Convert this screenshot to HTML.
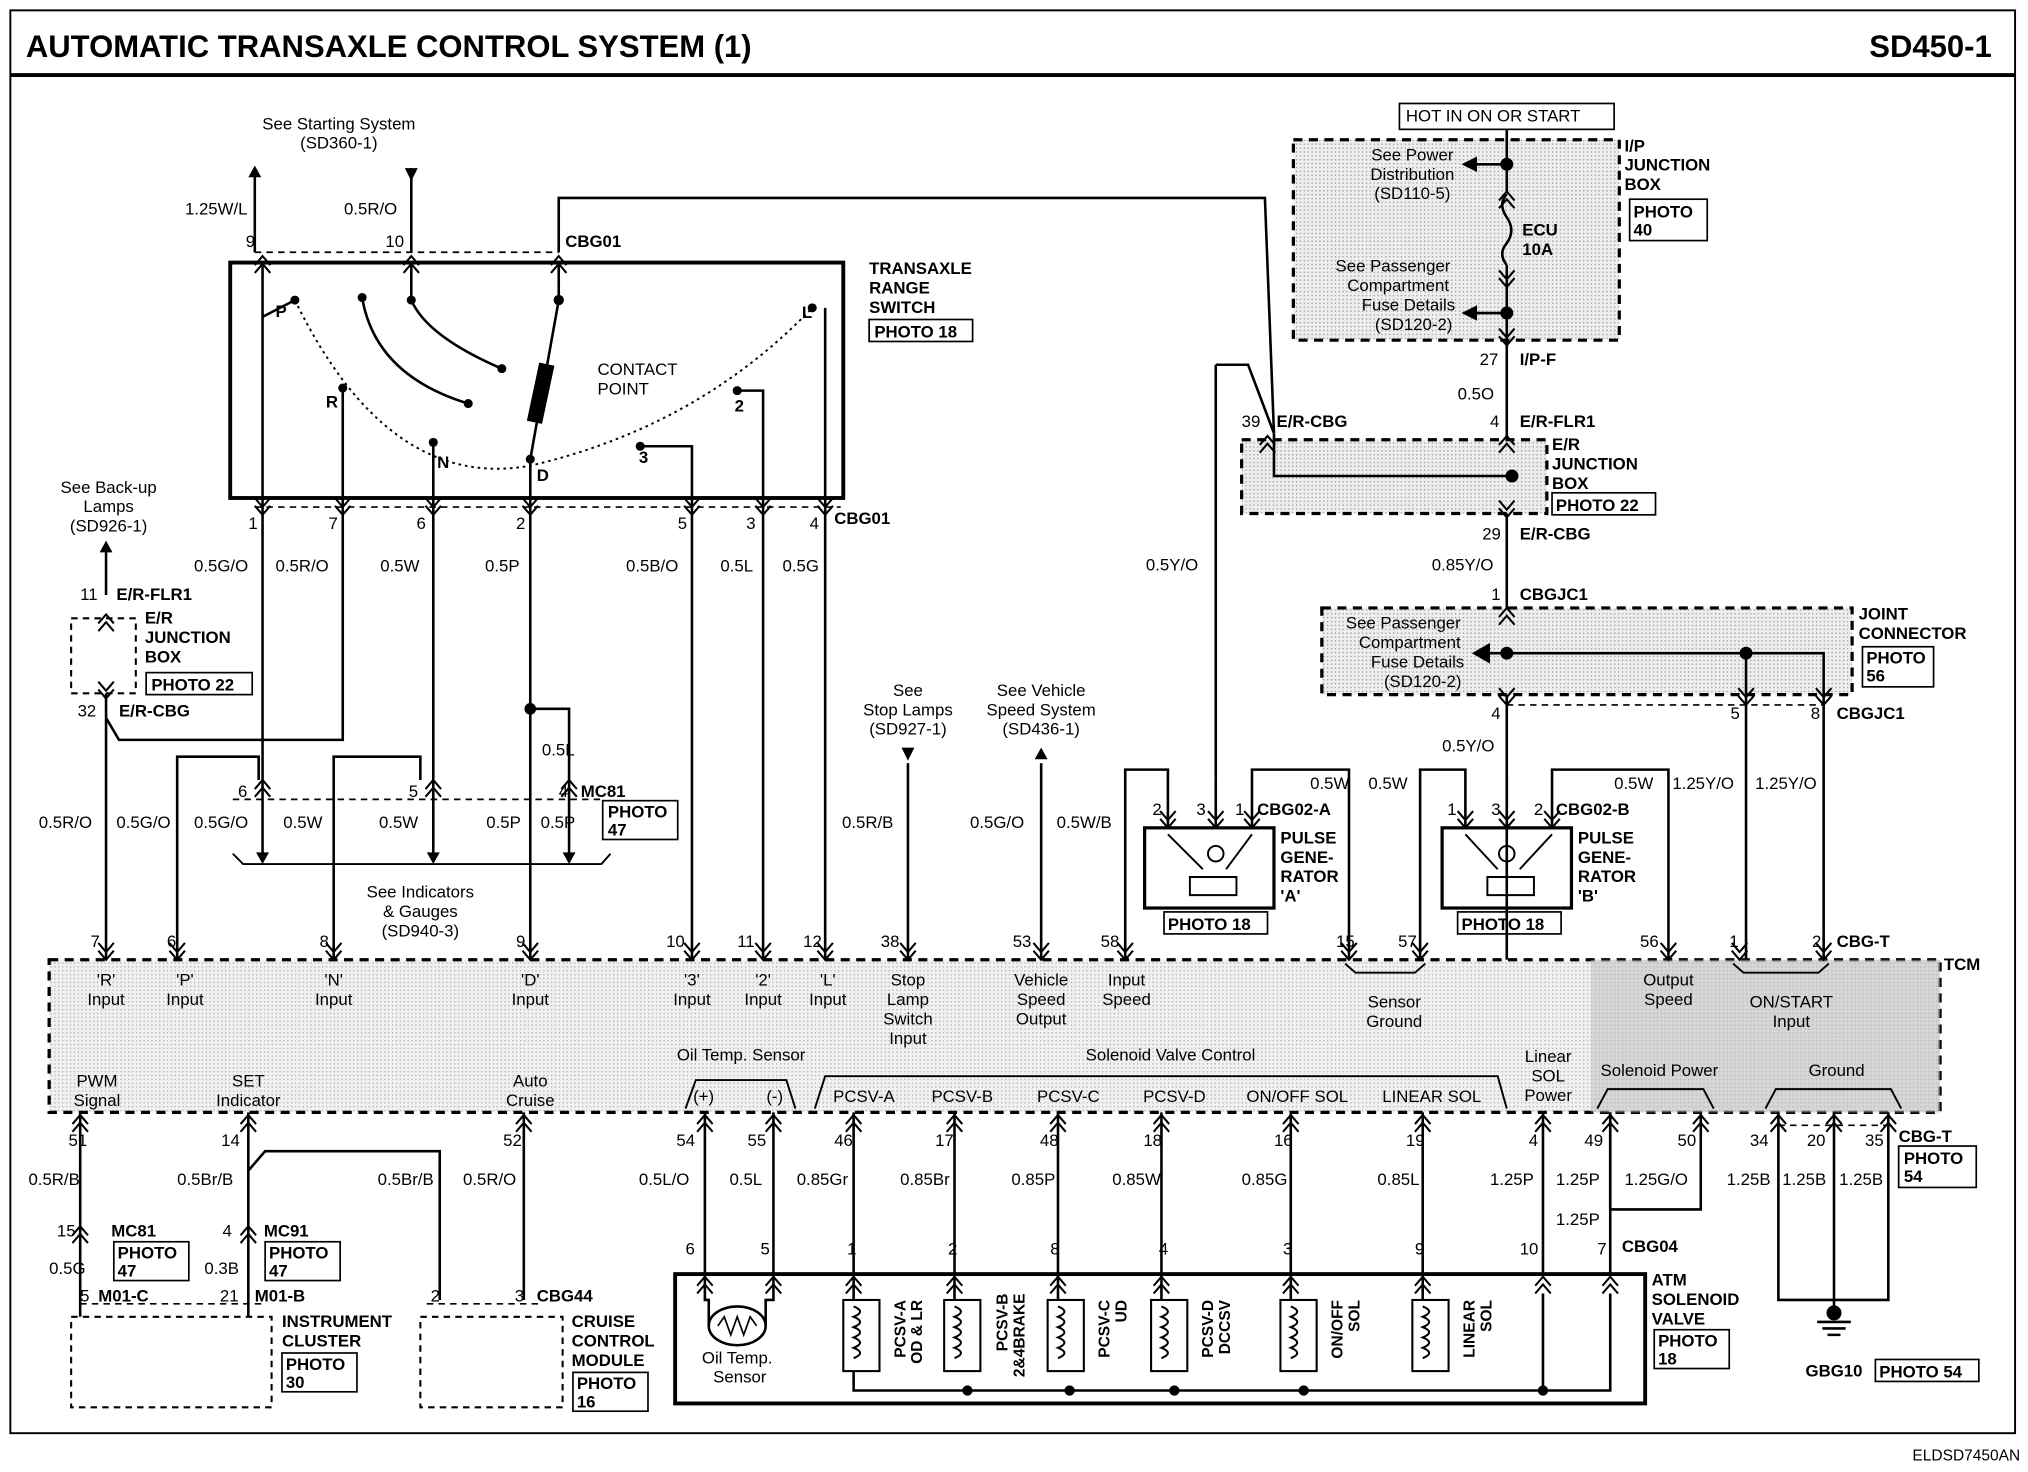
<!DOCTYPE html>
<html><head><meta charset="utf-8"><style>
html,body{margin:0;padding:0;background:#fff}
svg{display:block}
text{font-family:"Liberation Sans",Arial,sans-serif;fill:#000}
.b{font-weight:bold}
</style></head><body>
<svg width="2028" height="1472" viewBox="0 0 1568 1138" preserveAspectRatio="none" xmlns="http://www.w3.org/2000/svg">
<defs>
<g id="up" fill="none" stroke="#000" stroke-width="1.6"><path d="M-6,7 L0,0 L6,7 M-6,13 L0,6 L6,13"/></g>
<g id="dn" fill="none" stroke="#000" stroke-width="1.6"><path d="M-6,-7 L0,0 L6,-7 M-6,-13 L0,-6 L6,-13"/></g>
<g id="aup"><polygon points="-5,9 0,0 5,9" fill="#000"/></g>
<g id="adn"><polygon points="-5,-9 0,0 5,-9" fill="#000"/></g>
<pattern id="dot" width="3" height="3" patternUnits="userSpaceOnUse"><rect width="3" height="3" fill="#eee"/><rect width="1" height="1" fill="#999"/></pattern>
</defs>
<rect x="0" y="0" width="1568" height="1138" fill="#fff"/>
<rect x="8" y="8" width="1550" height="1100" fill="none" stroke="#000" stroke-width="1.5"/>
<line x1="8" y1="58" x2="1558" y2="58" stroke="#000" stroke-width="3"/>
<text x="20" y="44" font-size="24" class="b">AUTOMATIC TRANSAXLE CONTROL SYSTEM (1)</text>
<text x="1540" y="44" font-size="24" class="b" text-anchor="end">SD450-1</text>
<text x="1562" y="1129" font-size="12" text-anchor="end">ELDSD7450AN</text>

<g fill="none" stroke="#000" stroke-width="2">
<rect x="178" y="203" width="474" height="182" stroke-width="3"/>
<path d="M228,232 Q300,380 410,360 Q540,330 628,238" stroke-dasharray="2,3" stroke-width="1.5"/>
<path d="M280,230 Q290,290 362,312"/>
<path d="M318,205 L318,232 Q330,260 388,285"/>
<path d="M432,205 L432,232"/>
<line x1="432" y1="232" x2="410" y2="355" stroke-width="2"/>
<rect x="413" y="282" width="10" height="44" fill="#000" transform="rotate(12 418 304)"/>
<path d="M203,205 V398 M203,245 L228,232"/>
<path d="M265,398 V300"/>
<path d="M335,398 V342"/>
<path d="M410,398 V355"/>
<path d="M535,398 V345 H495"/>
<path d="M590,398 V302 H570"/>
<path d="M638,398 V238"/>
<path d="M197,195 V130"/><path d="M318,195 V130"/>
<path d="M432,195 V153 H978 L985,335"/>
<path d="M197,195 H432" stroke-dasharray="5,4" stroke-width="1.3"/>
<path d="M197,392 H650" stroke-dasharray="5,4" stroke-width="1.3"/>
<path d="M82,420 V460"/>
<rect x="55" y="478" width="50" height="58" stroke-dasharray="5,4" stroke-width="1.6"/>
<path d="M82,536 V742"/>
<path d="M82,555 L92,572 H265 V398"/>
<path d="M137,742 V585 H200 V603"/>
<path d="M203,398 V660"/>
<path d="M258,742 V585 H325 V603"/>
<path d="M335,398 V660"/>
<path d="M410,398 V742"/>
<path d="M410,548 H440 V660"/>
<path d="M180,618 H465" stroke-dasharray="5,4" stroke-width="1.3"/>
<path d="M180,660 L188,668 H465 L472,660" stroke-width="1.5"/>
<path d="M535,398 V742 M590,398 V742 M638,398 V742"/>
<path d="M702,590 V742 M805,590 V742"/>
<rect x="1000" y="108" width="252" height="155" fill="url(#dot)" stroke-dasharray="7,5" stroke-width="2.5"/>
<rect x="1082" y="80" width="166" height="20" stroke-width="1.3"/>
<path d="M1165,100 V148 M1165,205 V350 M1165,350 V742" />
<path d="M1165,150 Q1158,158 1165,168 Q1172,178 1165,188 Q1158,196 1165,205"/>
<path d="M1165,127 H1140 M1165,242 H1140"/>
<rect x="960" y="340" width="236" height="57" fill="url(#dot)" stroke-dasharray="7,5" stroke-width="2.5"/>
<path d="M985,335 V368 H1165"/>
<path d="M940,282 H965 L985,335"/>
<path d="M940,282 V600"/>
<rect x="1022" y="470" width="410" height="67" fill="url(#dot)" stroke-dasharray="7,5" stroke-width="2.5"/>
<path d="M1165,505 H1410 V742 M1350,505 V742 M1165,505 H1145"/>
<path d="M1165,545 H1410" stroke-dasharray="5,4" stroke-width="1.3"/>
<rect x="885" y="640" width="100" height="62" stroke-width="2.5"/>
<path d="M870,742 V595 H903 V640 M940,600 V640 M968,640 V595 H1043 V742"/>
<rect x="1115" y="640" width="100" height="62" stroke-width="2.5"/>
<path d="M1098,742 V595 H1133 V640 M1165,600 V640 M1200,640 V595 H1290 V742"/>
<path d="M903,645 L930,672 M968,645 L948,672 M920,678 H956 V692 H920 Z M1133,645 L1158,672 M1200,645 L1175,672 M1150,678 H1186 V692 H1150 Z" stroke-width="1.5"/>
<circle cx="940" cy="660" r="6" stroke-width="1.5"/><circle cx="1165" cy="660" r="6" stroke-width="1.5"/>
<rect x="38" y="742" width="1462" height="118" fill="url(#dot)" stroke-dasharray="7,5" stroke-width="2.5" fill-opacity="0.8"/>
<rect x="1230" y="742" width="270" height="118" fill="#bbb" stroke="none" opacity="0.5"/>
<path d="M1040,745 L1048,752 H1094 L1102,745 M1340,745 L1348,752 H1406 L1414,745 M530,857 L538,835 H608 L615,857 M630,857 L638,832 H1158 L1165,857 M1235,857 L1243,842 H1317 L1325,857 M1365,857 L1373,842 H1462 L1470,857" stroke-width="1.5"/>
<path d="M62,860 V1018 M192,860 V1018"/>
<path d="M192,905 L205,890 H340 V1005"/>
<path d="M405,860 V1005"/>
<path d="M545,860 V985 M598,860 V985 M660,860 V985 M738,860 V985 M818,860 V985 M898,860 V985 M998,860 V985 M1100,860 V985 M1193,860 V985 M1245,860 V985"/>
<path d="M1245,860 V935 H1315 V860"/>
<path d="M1375,860 V1005 H1460 V860 M1418,860 V1005 M1418,1005 V1018"/>
<path d="M1375,870 H1460" stroke-dasharray="5,4" stroke-width="1.3"/>
<rect x="522" y="985" width="750" height="100" stroke-width="3"/>
<rect x="55" y="1018" width="155" height="70" stroke-dasharray="5,4" stroke-width="1.6"/>
<rect x="325" y="1018" width="110" height="70" stroke-dasharray="5,4" stroke-width="1.6"/>
<path d="M62,1008 H205 M330,1008 H418" stroke-dasharray="5,4" stroke-width="1.3"/>
<path d="M540,985 H1255" stroke-dasharray="5,4" stroke-width="1.3"/>
<path d="M660,985 V1005 M738,985 V1005 M818,985 V1005 M898,985 V1005 M998,985 V1005 M1100,985 V1005"/>
<path d="M660,1060 V1075 H1245 V1000 M1193,1000 V1075"/>
<ellipse cx="570" cy="1025" rx="22" ry="15"/>
<path d="M548,1025 V1005 H545 V985 M592,1025 V1005 H598 V985"/>
<path d="M555,1025 L560,1018 L565,1032 L570,1018 L575,1032 L580,1018 L585,1025" stroke-width="1.3"/>
</g>
<g fill="none" stroke="#000" stroke-width="1.6">
<rect x="652" y="1005" width="28" height="55"/><rect x="730" y="1005" width="28" height="55"/><rect x="810" y="1005" width="28" height="55"/><rect x="890" y="1005" width="28" height="55"/><rect x="990" y="1005" width="28" height="55"/><rect x="1092" y="1005" width="28" height="55"/>
<path d="M660,1010 q10,4 0,8 q10,4 0,8 q10,4 0,8 q10,4 0,8 q10,4 0,8 M738,1010 q10,4 0,8 q10,4 0,8 q10,4 0,8 q10,4 0,8 q10,4 0,8 M818,1010 q10,4 0,8 q10,4 0,8 q10,4 0,8 q10,4 0,8 q10,4 0,8 M898,1010 q10,4 0,8 q10,4 0,8 q10,4 0,8 q10,4 0,8 q10,4 0,8 M998,1010 q10,4 0,8 q10,4 0,8 q10,4 0,8 q10,4 0,8 q10,4 0,8 M1100,1010 q10,4 0,8 q10,4 0,8 q10,4 0,8 q10,4 0,8 q10,4 0,8"/>
<path d="M1405,1022 H1431 M1409,1027 H1427 M1413,1032 H1423" stroke-width="2"/>
<circle cx="1418" cy="1015" r="5" fill="#000"/>
</g>
<g fill="#000">
<circle cx="228" cy="232" r="3.5"/><circle cx="280" cy="230" r="3.5"/><circle cx="318" cy="232" r="3.5"/><circle cx="362" cy="312" r="3.5"/><circle cx="388" cy="285" r="3.5"/><circle cx="265" cy="300" r="3.5"/><circle cx="335" cy="342" r="3.5"/><circle cx="410" cy="355" r="3.5"/><circle cx="495" cy="345" r="3.5"/><circle cx="570" cy="302" r="3.5"/><circle cx="628" cy="238" r="3.5"/><circle cx="432" cy="232" r="4"/>
<circle cx="410" cy="548" r="4.5"/><circle cx="1165" cy="127" r="5"/><circle cx="1165" cy="242" r="5"/><circle cx="1169" cy="368" r="5"/><circle cx="1165" cy="505" r="5"/><circle cx="1350" cy="505" r="5"/>
<circle cx="748" cy="1075" r="4"/><circle cx="827" cy="1075" r="4"/><circle cx="908" cy="1075" r="4"/><circle cx="1008" cy="1075" r="4"/><circle cx="1193" cy="1075" r="4"/>
<polygon points="1130,127 1142,121 1142,133"/><polygon points="1130,242 1142,236 1142,248"/><polygon points="1138,505 1152,497 1152,513"/>
</g>
<use href="#aup" x="197" y="128"/><polygon points="313,130 323,130 318,140" fill="#000"/>
<use href="#aup" x="82" y="418"/><use href="#adn" x="203" y="668"/><use href="#adn" x="335" y="668"/><use href="#adn" x="440" y="668"/>
<polygon points="697,578 707,578 702,588" fill="#000"/><use href="#aup" x="805" y="578"/>
<use href="#up" x="203" y="198"/><use href="#up" x="318" y="198"/><use href="#up" x="432" y="198"/>
<use href="#dn" x="203" y="398"/><use href="#dn" x="265" y="398"/><use href="#dn" x="335" y="398"/><use href="#dn" x="410" y="398"/><use href="#dn" x="535" y="398"/><use href="#dn" x="590" y="398"/><use href="#dn" x="638" y="398"/>
<use href="#up" x="82" y="475"/><use href="#dn" x="82" y="540"/><use href="#up" x="203" y="603"/><use href="#up" x="335" y="603"/><use href="#up" x="440" y="603"/>
<use href="#up" x="1165" y="148"/><use href="#dn" x="1165" y="222"/><use href="#dn" x="1165" y="267"/><use href="#up" x="1165" y="337"/><use href="#dn" x="1165" y="400"/><use href="#up" x="980" y="337"/>
<use href="#up" x="1165" y="470"/><use href="#dn" x="1165" y="545"/><use href="#dn" x="1350" y="545"/><use href="#dn" x="1410" y="545"/>
<use href="#dn" x="903" y="640"/><use href="#dn" x="940" y="640"/><use href="#dn" x="968" y="640"/><use href="#dn" x="1133" y="640"/><use href="#dn" x="1165" y="640"/><use href="#dn" x="1200" y="640"/>
<g>
<use href="#dn" x="82" y="742"/><use href="#dn" x="137" y="742"/><use href="#dn" x="258" y="742"/><use href="#dn" x="410" y="742"/><use href="#dn" x="535" y="742"/><use href="#dn" x="590" y="742"/><use href="#dn" x="638" y="742"/><use href="#dn" x="702" y="742"/><use href="#dn" x="805" y="742"/><use href="#dn" x="870" y="742"/><use href="#dn" x="1043" y="742"/><use href="#dn" x="1098" y="742"/><use href="#dn" x="1290" y="742"/><use href="#dn" x="1345" y="742"/><use href="#dn" x="1410" y="742"/>
<use href="#up" x="62" y="862"/><use href="#up" x="192" y="862"/><use href="#up" x="405" y="862"/><use href="#up" x="545" y="862"/><use href="#up" x="598" y="862"/><use href="#up" x="660" y="862"/><use href="#up" x="738" y="862"/><use href="#up" x="818" y="862"/><use href="#up" x="898" y="862"/><use href="#up" x="998" y="862"/><use href="#up" x="1100" y="862"/><use href="#up" x="1193" y="862"/><use href="#up" x="1245" y="862"/><use href="#up" x="1315" y="862"/><use href="#up" x="1375" y="862"/><use href="#up" x="1418" y="862"/><use href="#up" x="1460" y="862"/>
<use href="#up" x="62" y="948"/><use href="#up" x="192" y="948"/>
<use href="#up" x="545" y="987"/><use href="#up" x="598" y="987"/><use href="#up" x="660" y="987"/><use href="#up" x="738" y="987"/><use href="#up" x="818" y="987"/><use href="#up" x="898" y="987"/><use href="#up" x="998" y="987"/><use href="#up" x="1100" y="987"/><use href="#up" x="1193" y="987"/><use href="#up" x="1245" y="987"/>
</g>
<g font-size="13">
<text x="262" y="100" text-anchor="middle">See Starting System</text><text x="262" y="115" text-anchor="middle">(SD360-1)</text>
<text x="143" y="166">1.25W/L</text><text x="266" y="166">0.5R/O</text>
<text x="190" y="191">9</text><text x="298" y="191">10</text><text x="437" y="191" class="b">CBG01</text>
<text x="672" y="212" class="b">TRANSAXLE</text><text x="672" y="227" class="b">RANGE</text><text x="672" y="242" class="b">SWITCH</text>
<rect x="672" y="247" width="80" height="17" fill="none" stroke="#000" stroke-width="1.3"/><text x="676" y="261" class="b">PHOTO 18</text>
<text x="213" y="245" class="b">P</text><text x="620" y="246" class="b">L</text><text x="252" y="315" class="b">R</text><text x="338" y="362" class="b">N</text><text x="415" y="372" class="b">D</text><text x="494" y="358" class="b">3</text><text x="568" y="318" class="b">2</text>
<text x="462" y="290">CONTACT</text><text x="462" y="305">POINT</text>
<text x="192" y="409">1</text><text x="254" y="409">7</text><text x="322" y="409">6</text><text x="399" y="409">2</text><text x="524" y="409">5</text><text x="577" y="409">3</text><text x="626" y="409">4</text><text x="645" y="405" class="b">CBG01</text>
<text x="84" y="381" text-anchor="middle">See Back-up</text><text x="84" y="396" text-anchor="middle">Lamps</text><text x="84" y="411" text-anchor="middle">(SD926-1)</text>
<text x="150" y="442">0.5G/O</text><text x="213" y="442">0.5R/O</text><text x="294" y="442">0.5W</text><text x="375" y="442">0.5P</text><text x="484" y="442">0.5B/O</text><text x="557" y="442">0.5L</text><text x="605" y="442">0.5G</text>
<text x="62" y="464">11</text><text x="90" y="464" class="b">E/R-FLR1</text>
<text x="112" y="482" class="b">E/R</text><text x="112" y="497" class="b">JUNCTION</text><text x="112" y="512" class="b">BOX</text>
<rect x="113" y="520" width="82" height="17" fill="none" stroke="#000" stroke-width="1.3"/><text x="117" y="534" class="b">PHOTO 22</text>
<text x="60" y="554">32</text><text x="92" y="554" class="b">E/R-CBG</text>
<text x="419" y="584">0.5L</text>
<text x="184" y="616">6</text><text x="316" y="616">5</text><text x="432" y="616">4</text><text x="449" y="616" class="b">MC81</text>
<rect x="466" y="619" width="58" height="30" fill="none" stroke="#000" stroke-width="1.3"/><text x="470" y="632" class="b">PHOTO</text><text x="470" y="646" class="b">47</text>
<text x="30" y="640">0.5R/O</text><text x="90" y="640">0.5G/O</text><text x="150" y="640">0.5G/O</text><text x="219" y="640">0.5W</text><text x="293" y="640">0.5W</text><text x="376" y="640">0.5P</text><text x="418" y="640">0.5P</text>
<text x="325" y="694" text-anchor="middle">See Indicators</text><text x="325" y="709" text-anchor="middle">&amp; Gauges</text><text x="325" y="724" text-anchor="middle">(SD940-3)</text>
<text x="702" y="538" text-anchor="middle">See</text><text x="702" y="553" text-anchor="middle">Stop Lamps</text><text x="702" y="568" text-anchor="middle">(SD927-1)</text>
<text x="805" y="538" text-anchor="middle">See Vehicle</text><text x="805" y="553" text-anchor="middle">Speed System</text><text x="805" y="568" text-anchor="middle">(SD436-1)</text>
<text x="651" y="640">0.5R/B</text><text x="750" y="640">0.5G/O</text><text x="817" y="640">0.5W/B</text>
<text x="886" y="441">0.5Y/O</text>
<text x="1087" y="94">HOT IN ON OR START</text>
<text x="1092" y="124" text-anchor="middle">See Power</text><text x="1092" y="139" text-anchor="middle">Distribution</text><text x="1092" y="154" text-anchor="middle">(SD110-5)</text>
<text x="1177" y="182" class="b">ECU</text><text x="1177" y="197" class="b">10A</text>
<text x="1077" y="210" text-anchor="middle">See Passenger</text><text x="1081" y="225" text-anchor="middle">Compartment</text><text x="1089" y="240" text-anchor="middle">Fuse Details</text><text x="1093" y="255" text-anchor="middle">(SD120-2)</text>
<text x="1256" y="117" class="b">I/P</text><text x="1256" y="132" class="b">JUNCTION</text><text x="1256" y="147" class="b">BOX</text>
<rect x="1260" y="154" width="60" height="32" fill="none" stroke="#000" stroke-width="1.3"/><text x="1263" y="168" class="b">PHOTO</text><text x="1263" y="182" class="b">40</text>
<text x="1144" y="282">27</text><text x="1175" y="282" class="b">I/P-F</text><text x="1127" y="309">0.5O</text>
<text x="960" y="330">39</text><text x="987" y="330" class="b">E/R-CBG</text><text x="1152" y="330">4</text><text x="1175" y="330" class="b">E/R-FLR1</text>
<text x="1200" y="348" class="b">E/R</text><text x="1200" y="363" class="b">JUNCTION</text><text x="1200" y="378" class="b">BOX</text>
<rect x="1200" y="381" width="80" height="17" fill="none" stroke="#000" stroke-width="1.3"/><text x="1203" y="395" class="b">PHOTO 22</text>
<text x="1146" y="417">29</text><text x="1175" y="417" class="b">E/R-CBG</text><text x="1107" y="441">0.85Y/O</text>
<text x="1153" y="464">1</text><text x="1175" y="464" class="b">CBGJC1</text>
<text x="1085" y="486" text-anchor="middle">See Passenger</text><text x="1090" y="501" text-anchor="middle">Compartment</text><text x="1096" y="516" text-anchor="middle">Fuse Details</text><text x="1100" y="531" text-anchor="middle">(SD120-2)</text>
<text x="1437" y="479" class="b">JOINT</text><text x="1437" y="494" class="b">CONNECTOR</text>
<rect x="1440" y="500" width="55" height="31" fill="none" stroke="#000" stroke-width="1.3"/><text x="1443" y="513" class="b">PHOTO</text><text x="1443" y="527" class="b">56</text>
<text x="1153" y="556">4</text><text x="1338" y="556">5</text><text x="1400" y="556">8</text><text x="1420" y="556" class="b">CBGJC1</text>
<text x="1115" y="581">0.5Y/O</text>
<text x="1013" y="610">0.5W</text><text x="1058" y="610">0.5W</text><text x="1248" y="610">0.5W</text><text x="1293" y="610">1.25Y/O</text><text x="1357" y="610">1.25Y/O</text>
<text x="891" y="630">2</text><text x="925" y="630">3</text><text x="955" y="630">1</text><text x="972" y="630" class="b">CBG02-A</text>
<text x="1119" y="630">1</text><text x="1153" y="630">3</text><text x="1186" y="630">2</text><text x="1203" y="630" class="b">CBG02-B</text>
<text x="990" y="652" class="b">PULSE</text><text x="990" y="667" class="b">GENE-</text><text x="990" y="682" class="b">RATOR</text><text x="990" y="697" class="b">'A'</text>
<text x="1220" y="652" class="b">PULSE</text><text x="1220" y="667" class="b">GENE-</text><text x="1220" y="682" class="b">RATOR</text><text x="1220" y="697" class="b">'B'</text>
<rect x="900" y="705" width="80" height="17" fill="none" stroke="#000" stroke-width="1.3"/><text x="903" y="719" class="b">PHOTO 18</text>
<rect x="1127" y="705" width="80" height="17" fill="none" stroke="#000" stroke-width="1.3"/><text x="1130" y="719" class="b">PHOTO 18</text>
<text x="70" y="732">7</text><text x="129" y="732">6</text><text x="247" y="732">8</text><text x="399" y="732">9</text><text x="515" y="732">10</text><text x="570" y="732">11</text><text x="621" y="732">12</text><text x="681" y="732">38</text><text x="783" y="732">53</text><text x="851" y="732">58</text><text x="1033" y="732">15</text><text x="1081" y="732">57</text><text x="1268" y="732">56</text><text x="1337" y="732">1</text><text x="1401" y="732">2</text><text x="1420" y="732" class="b">CBG-T</text>
<text x="1503" y="750" class="b">TCM</text>
<text x="82" y="762" text-anchor="middle">'R'</text><text x="82" y="777" text-anchor="middle">Input</text>
<text x="143" y="762" text-anchor="middle">'P'</text><text x="143" y="777" text-anchor="middle">Input</text>
<text x="258" y="762" text-anchor="middle">'N'</text><text x="258" y="777" text-anchor="middle">Input</text>
<text x="410" y="762" text-anchor="middle">'D'</text><text x="410" y="777" text-anchor="middle">Input</text>
<text x="535" y="762" text-anchor="middle">'3'</text><text x="535" y="777" text-anchor="middle">Input</text>
<text x="590" y="762" text-anchor="middle">'2'</text><text x="590" y="777" text-anchor="middle">Input</text>
<text x="640" y="762" text-anchor="middle">'L'</text><text x="640" y="777" text-anchor="middle">Input</text>
<text x="702" y="762" text-anchor="middle">Stop</text><text x="702" y="777" text-anchor="middle">Lamp</text><text x="702" y="792" text-anchor="middle">Switch</text><text x="702" y="807" text-anchor="middle">Input</text>
<text x="805" y="762" text-anchor="middle">Vehicle</text><text x="805" y="777" text-anchor="middle">Speed</text><text x="805" y="792" text-anchor="middle">Output</text>
<text x="871" y="762" text-anchor="middle">Input</text><text x="871" y="777" text-anchor="middle">Speed</text>
<text x="1078" y="779" text-anchor="middle">Sensor</text><text x="1078" y="794" text-anchor="middle">Ground</text>
<text x="1290" y="762" text-anchor="middle">Output</text><text x="1290" y="777" text-anchor="middle">Speed</text>
<text x="1385" y="779" text-anchor="middle">ON/START</text><text x="1385" y="794" text-anchor="middle">Input</text>
<text x="573" y="820" text-anchor="middle">Oil Temp. Sensor</text><text x="905" y="820" text-anchor="middle">Solenoid Valve Control</text>
<text x="1197" y="821" text-anchor="middle">Linear</text><text x="1197" y="836" text-anchor="middle">SOL</text><text x="1197" y="851" text-anchor="middle">Power</text>
<text x="1283" y="832" text-anchor="middle">Solenoid Power</text><text x="1420" y="832" text-anchor="middle">Ground</text>
<text x="75" y="840" text-anchor="middle">PWM</text><text x="75" y="855" text-anchor="middle">Signal</text>
<text x="192" y="840" text-anchor="middle">SET</text><text x="192" y="855" text-anchor="middle">Indicator</text>
<text x="410" y="840" text-anchor="middle">Auto</text><text x="410" y="855" text-anchor="middle">Cruise</text>
<text x="544" y="852" text-anchor="middle">(+)</text><text x="599" y="852" text-anchor="middle">(-)</text>
<text x="668" y="852" text-anchor="middle">PCSV-A</text><text x="744" y="852" text-anchor="middle">PCSV-B</text><text x="826" y="852" text-anchor="middle">PCSV-C</text><text x="908" y="852" text-anchor="middle">PCSV-D</text><text x="1003" y="852" text-anchor="middle">ON/OFF SOL</text><text x="1107" y="852" text-anchor="middle">LINEAR SOL</text>
<text x="53" y="886">51</text><text x="171" y="886">14</text><text x="389" y="886">52</text><text x="523" y="886">54</text><text x="578" y="886">55</text><text x="645" y="886">46</text><text x="723" y="886">17</text><text x="804" y="886">48</text><text x="884" y="886">18</text><text x="985" y="886">16</text><text x="1087" y="886">19</text><text x="1182" y="886">4</text><text x="1225" y="886">49</text><text x="1297" y="886">50</text><text x="1353" y="886">34</text><text x="1397" y="886">20</text><text x="1442" y="886">35</text><text x="1468" y="883" class="b">CBG-T</text>
<rect x="1468" y="886" width="60" height="32" fill="none" stroke="#000" stroke-width="1.3"/><text x="1472" y="900" class="b">PHOTO</text><text x="1472" y="914" class="b">54</text>
<text x="22" y="916">0.5R/B</text><text x="137" y="916">0.5Br/B</text><text x="292" y="916">0.5Br/B</text><text x="358" y="916">0.5R/O</text><text x="494" y="916">0.5L/O</text><text x="564" y="916">0.5L</text><text x="616" y="916">0.85Gr</text><text x="696" y="916">0.85Br</text><text x="782" y="916">0.85P</text><text x="860" y="916">0.85W</text><text x="960" y="916">0.85G</text><text x="1065" y="916">0.85L</text><text x="1152" y="916">1.25P</text><text x="1203" y="916">1.25P</text><text x="1256" y="916">1.25G/O</text><text x="1335" y="916">1.25B</text><text x="1378" y="916">1.25B</text><text x="1422" y="916">1.25B</text>
<text x="1203" y="947">1.25P</text>
<text x="44" y="956">15</text><text x="86" y="956" class="b">MC81</text><text x="172" y="956">4</text><text x="204" y="956" class="b">MC91</text>
<rect x="88" y="960" width="58" height="30" fill="none" stroke="#000" stroke-width="1.3"/><text x="91" y="973" class="b">PHOTO</text><text x="91" y="987" class="b">47</text>
<rect x="205" y="960" width="58" height="30" fill="none" stroke="#000" stroke-width="1.3"/><text x="208" y="973" class="b">PHOTO</text><text x="208" y="987" class="b">47</text>
<text x="38" y="985">0.5G</text><text x="158" y="985">0.3B</text>
<text x="62" y="1006">5</text><text x="76" y="1006" class="b">M01-C</text><text x="170" y="1006">21</text><text x="197" y="1006" class="b">M01-B</text>
<text x="333" y="1006">2</text><text x="398" y="1006">3</text><text x="415" y="1006" class="b">CBG44</text>
<text x="530" y="970">6</text><text x="588" y="970">5</text><text x="655" y="970">1</text><text x="733" y="970">2</text><text x="812" y="970">8</text><text x="896" y="970">4</text><text x="992" y="970">3</text><text x="1094" y="970">9</text><text x="1175" y="970">10</text><text x="1235" y="970">7</text><text x="1254" y="968" class="b">CBG04</text>
<text x="1277" y="994" class="b">ATM</text><text x="1277" y="1009" class="b">SOLENOID</text><text x="1277" y="1024" class="b">VALVE</text>
<rect x="1279" y="1028" width="58" height="30" fill="none" stroke="#000" stroke-width="1.3"/><text x="1282" y="1041" class="b">PHOTO</text><text x="1282" y="1055" class="b">18</text>
<text x="218" y="1026" class="b">INSTRUMENT</text><text x="218" y="1041" class="b">CLUSTER</text>
<rect x="218" y="1046" width="58" height="30" fill="none" stroke="#000" stroke-width="1.3"/><text x="221" y="1059" class="b">PHOTO</text><text x="221" y="1073" class="b">30</text>
<text x="442" y="1026" class="b">CRUISE</text><text x="442" y="1041" class="b">CONTROL</text><text x="442" y="1056" class="b">MODULE</text>
<rect x="443" y="1061" width="58" height="30" fill="none" stroke="#000" stroke-width="1.3"/><text x="446" y="1074" class="b">PHOTO</text><text x="446" y="1088" class="b">16</text>
<text x="570" y="1054" text-anchor="middle">Oil Temp.</text><text x="572" y="1069" text-anchor="middle">Sensor</text>
<text x="1396" y="1064" class="b">GBG10</text>
<rect x="1450" y="1051" width="80" height="17" fill="none" stroke="#000" stroke-width="1.3"/><text x="1453" y="1065" class="b">PHOTO 54</text>
</g>
<g font-size="12" class="b">
<text transform="translate(700,1005) rotate(-90)" text-anchor="end">PCSV-A</text>
<text transform="translate(713,1005) rotate(-90)" text-anchor="end">OD &amp; LR</text>
<text transform="translate(779,1000) rotate(-90)" text-anchor="end">PCSV-B</text>
<text transform="translate(792,1000) rotate(-90)" text-anchor="end">2&amp;4BRAKE</text>
<text transform="translate(858,1005) rotate(-90)" text-anchor="end">PCSV-C</text>
<text transform="translate(871,1005) rotate(-90)" text-anchor="end">UD</text>
<text transform="translate(938,1005) rotate(-90)" text-anchor="end">PCSV-D</text>
<text transform="translate(951,1005) rotate(-90)" text-anchor="end">DCCSV</text>
<text transform="translate(1038,1005) rotate(-90)" text-anchor="end">ON/OFF</text>
<text transform="translate(1051,1005) rotate(-90)" text-anchor="end">SOL</text>
<text transform="translate(1140,1005) rotate(-90)" text-anchor="end">LINEAR</text>
<text transform="translate(1153,1005) rotate(-90)" text-anchor="end">SOL</text>
</g>
</svg>
</body></html>
